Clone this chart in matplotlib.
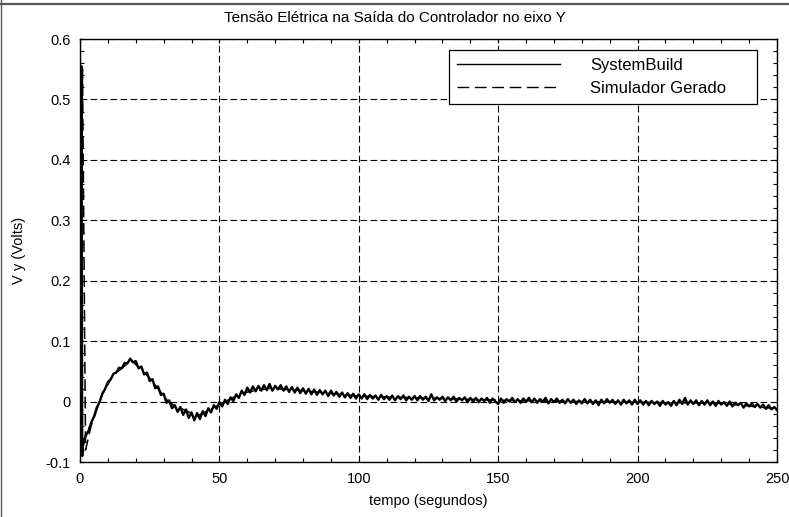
"""
Tensao eletrica na saida do controlador (eixo Y) - SystemBuild vs simulador gerado
"""

import numpy as np
import matplotlib
matplotlib.use("Agg")
import matplotlib.pyplot as plt
from matplotlib.lines import Line2D

plt.rcParams['font.family'] = ['Liberation Sans', 'DejaVu Sans']
plt.rcParams['font.size'] = 10
plt.rcParams['lines.scale_dashes'] = False

# SystemBuild: spike at the start, then one sample per second (t = 1..250)
sb_start_t = [0.0, 0.5, 0.8]
sb_start_v = [0.0, 0.555, -0.090]
sb_v = [
    -0.074, -0.057, -0.049, -0.035, -0.025, -0.010, -0.001, 0.013, 0.021, 0.032,
    0.037, 0.046, 0.048, 0.056, 0.055, 0.064, 0.063, 0.071, 0.065, 0.067,
    0.055, 0.058, 0.045, 0.048, 0.034, 0.037, 0.022, 0.025, 0.011, 0.013,
    -0.002, 0.002, -0.011, -0.006, -0.017, -0.009, -0.022, -0.013, -0.027, -0.018,
    -0.031, -0.019, -0.029, -0.016, -0.024, -0.011, -0.018, -0.006, -0.012, -0.001,
    -0.008, 0.003, -0.004, 0.007, 0.001, 0.012, 0.006, 0.018, 0.011, 0.023,
    0.015, 0.025, 0.017, 0.026, 0.018, 0.027, 0.019, 0.029, 0.018, 0.026,
    0.020, 0.027, 0.018, 0.025, 0.016, 0.024, 0.015, 0.023, 0.014, 0.022,
    0.013, 0.021, 0.012, 0.020, 0.011, 0.019, 0.012, 0.018, 0.009, 0.018,
    0.010, 0.016, 0.008, 0.015, 0.007, 0.014, 0.006, 0.013, 0.005, 0.012,
    0.005, 0.012, 0.004, 0.011, 0.005, 0.010, 0.003, 0.011, 0.004, 0.009,
    0.003, 0.010, 0.002, 0.009, 0.004, 0.010, 0.002, 0.008, 0.003, 0.009,
    0.002, 0.009, 0.003, 0.008, 0.001, 0.012, 0.002, 0.007, 0.003, 0.008,
    0.001, 0.007, 0.002, 0.008, 0.000, 0.006, 0.002, 0.007, -0.001, 0.006,
    0.000, 0.006, -0.001, 0.005, 0.001, 0.006, -0.002, 0.005, 0.000, -0.004,
    0.005, -0.002, 0.004, 0.000, 0.006, -0.001, 0.004, -0.002, 0.005, 0.000,
    0.006, -0.001, 0.005, -0.002, 0.004, 0.000, 0.006, -0.003, 0.004, -0.001,
    0.005, -0.002, 0.003, -0.003, 0.004, -0.002, 0.003, -0.004, 0.002, -0.003,
    0.004, -0.003, 0.003, -0.004, 0.002, -0.006, 0.003, -0.003, 0.004, -0.002,
    0.003, -0.004, 0.002, -0.005, 0.003, -0.003, 0.002, -0.005, 0.003, -0.004,
    0.002, -0.005, 0.001, -0.006, 0.001, -0.004, 0.000, -0.007, 0.001, -0.005,
    -0.001, -0.007, 0.001, -0.006, 0.003, -0.004, 0.006, -0.005, 0.002, -0.004,
    0.002, -0.006, 0.001, -0.005, 0.002, -0.006, 0.000, -0.007, 0.001, -0.005,
    -0.001, -0.007, 0.000, -0.008, -0.002, -0.006, -0.002, -0.010, -0.003, -0.008,
    -0.003, -0.009, -0.004, -0.010, -0.005, -0.012, -0.006, -0.013, -0.009, -0.014,
]

# Simulador Gerado (smooth, mostly hidden under SystemBuild)
sim_t = [0.0, 0.9, 2.0, 4, 8, 12, 18.5, 25, 32, 42, 50, 58, 68, 80, 100, 130, 160, 200, 230, 250]
sim_v = [0.0, 0.55, -0.080, -0.040, 0.012, 0.044, 0.068, 0.039, -0.002, -0.024,
         -0.005, 0.014, 0.022, 0.018, 0.009, 0.005, 0.001, -0.001, -0.003, -0.012]

sb_t = np.concatenate([sb_start_t, np.arange(1, len(sb_v) + 1)])
sb_all = np.concatenate([sb_start_v, sb_v])

fig = plt.figure(figsize=(7.89, 5.17), dpi=100)
ax = fig.add_axes([80/789, 1 - 462/517, 697/789, 423/517])

ax.plot(sim_t, sim_v, color='k', lw=1.1, linestyle=(0, (8.5, 4)), label='Simulador Gerado', zorder=3)
ax.plot(sb_t, sb_all, color='k', lw=1.7, label='SystemBuild', zorder=4)

ax.set_xlim(0, 250)
ax.set_ylim(-0.1, 0.6)
ax.set_xticks([0, 50, 100, 150, 200, 250])
ax.set_yticks([-0.1, 0, 0.1, 0.2, 0.3, 0.4, 0.5, 0.6])
ax.set_yticklabels(['-0.1', '0', '0.1', '0.2', '0.3', '0.4', '0.5', '0.6'])
ax.set_xticks(np.arange(0, 251, 10), minor=True)
ax.set_yticks(np.arange(-0.1, 0.601, 0.02), minor=True)
ax.tick_params(which='both', direction='in', top=True, right=True, length=3, width=0.8,
               labelsize=10.5)
ax.tick_params(which='major', pad=7)
ax.grid(True, which='major', color='k', lw=0.8, linestyle=(0, (4.8, 2.4)))

for s in ax.spines.values():
    s.set_linewidth(1.0)

# title is centred on the whole figure in the original
fig.text(0.5, 1 - 18/517, 'Tensão Elétrica na Saída do Controlador no eixo Y',
         fontsize=11, ha='center', va='center')
ax.set_xlabel('tempo (segundos)', fontsize=10.5, labelpad=6)
ax.set_ylabel('V y (Volts)', fontsize=10.5, labelpad=14)

handles = [Line2D([], [], color='k', lw=1.0),
           Line2D([], [], color='k', lw=1.0, linestyle=(0, (8.5, 4)))]
leg = ax.legend(handles, ['SystemBuild', 'Simulador Gerado'], loc='upper left',
                bbox_to_anchor=(0.529, 0.846, 0.442, 0.128), mode='expand',
                borderaxespad=0, fancybox=False, prop={'size': 12},
                handlelength=6.2, handletextpad=1.8, labelspacing=0.45, borderpad=0.5,
                framealpha=1)
leg.get_frame().set_edgecolor('k')
leg.get_frame().set_linewidth(0.9)

# screenshot frame lines (top and left)
fig.add_artist(Line2D([0, 1], [1 - 3.8/517, 1 - 3.8/517], color='#555555', lw=1.6, transform=fig.transFigure))
fig.add_artist(Line2D([0.6/789, 0.6/789], [0, 1], color='#555555', lw=1.0, transform=fig.transFigure))

fig.savefig('out.png', dpi=100)
